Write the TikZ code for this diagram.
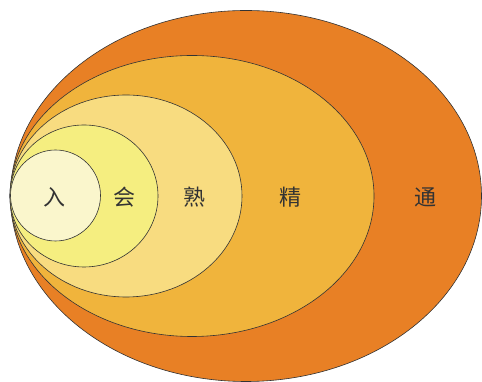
\documentclass[tikz,border=0pt]{standalone}
\usepackage{fontspec}
\newfontfamily\cjk{Noto Sans CJK SC}
\definecolor{tong}{HTML}{E88025}
\definecolor{jing}{HTML}{F0B43C}
\definecolor{shu}{HTML}{F8DC80}
\definecolor{hui}{HTML}{F5EE80}
\definecolor{ru}{HTML}{FAF6CC}
\tikzset{ring/.style={draw=black!80,line width=0.6pt}}
\tikzset{word/.style={font=\cjk\fontsize{22}{22}\selectfont,text=black!80}}
\begin{document}
\begin{tikzpicture}[x=1pt,y=1pt]
	\useasboundingbox (0,0) rectangle (482,382);
	\draw[ring,fill=tong] (246,186) ellipse (235.5 and 185.5);
	\draw[ring,fill=jing] (192,186) ellipse (182 and 140.5);
	\draw[ring,fill=shu] (126,186) ellipse (116 and 101);
	\draw[ring,fill=hui] (84,186) ellipse (74 and 71);
	\draw[ring,fill=ru] (55.5,186.5) ellipse (45 and 45.5);
	\node[word] (ru) at (54,185) {入};
	\node[word] (hui) at (124,185) {会};
	\node[word] (shu) at (194,185) {熟};
	\node[word] (jing) at (290,185) {精};
	\node[word] (tong) at (425,185) {通};
\end{tikzpicture}
\end{document}
